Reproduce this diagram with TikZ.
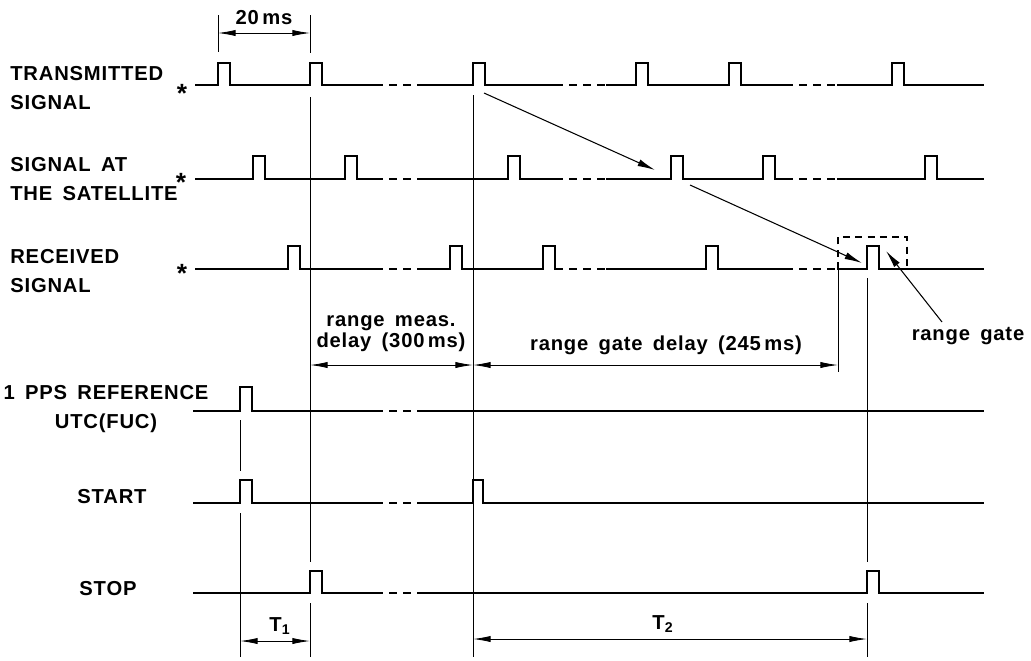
\documentclass[tikz,border=0pt]{standalone}
\usepackage{fontspec}
\setmainfont{Liberation Sans}[LetterSpace=4,WordSpace=1.6]
\usetikzlibrary{arrows.meta}

\begin{document}
\begin{tikzpicture}[
    x=0.2mm, y=-0.2mm,
    font=\fontsize{11.5}{14}\selectfont\bfseries,
    sig/.style={line width=1.1pt},
    brk/.style={line width=1.1pt, dash pattern=on 4.5pt off 3.5pt, dash phase=4.5pt},
    refline/.style={line width=0.5pt},
    gatebox/.style={line width=0.7pt, dash pattern=on 4pt off 3pt},
    dim/.style={{Latex[length=10pt,width=3.5pt]}-{Latex[length=10pt,width=3.5pt]}, line width=0.5pt},
    ray/.style={-{Latex[length=10pt,width=4pt]}, line width=0.6pt},
    lbl/.style={anchor=west, align=left, inner sep=0pt},
    star/.style={inner sep=0pt, font=\fontsize{15}{15}\selectfont\bfseries}
]
\useasboundingbox (0,0) rectangle (1031,660);

% Signal names
\node[lbl] (txlbl) at (10,88) {TRANSMITTED\\[3pt]SIGNAL};
\node[lbl] (satlbl) at (10,179) {SIGNAL AT\\[3pt]THE SATELLITE};
\node[lbl] (rxlbl) at (10,271) {RECEIVED\\[3pt]SIGNAL};
\node[align=center, inner sep=0pt] (ppslbl) at (106,409) {1 PPS REFERENCE\\[3pt]UTC(FUC)};
\node (startlbl) at (112,497) {START};
\node (stoplbl) at (108,589) {STOP};
\node[star] (txstar) at (182,93) {*};
\node[star] (satstar) at (181,182) {*};
\node[star] (rxstar) at (182,273) {*};

% Transmitted signal
\draw[sig] (195,85) \foreach \p in {218,310} {-- (\p,85) -- ++(0,-22) -- ++(12,0) -- ++(0,22)} -- (383,85);
\draw[sig] (420,85) -- (473,85) -- ++(0,-22) -- ++(12,0) -- ++(0,22) -- (563,85);
\draw[sig] (606,85) \foreach \p in {636,729} {-- (\p,85) -- ++(0,-22) -- ++(12,0) -- ++(0,22)} -- (793,85);
\draw[sig] (837,85) -- (892,85) -- ++(0,-22) -- ++(12,0) -- ++(0,22) -- (984,85);

% Signal at the satellite
\draw[sig] (195,179) \foreach \p in {253,345} {-- (\p,179) -- ++(0,-23) -- ++(12,0) -- ++(0,23)} -- (383,179);
\draw[sig] (420,179) -- (508,179) -- ++(0,-23) -- ++(12,0) -- ++(0,23) -- (563,179);
\draw[sig] (606,179) \foreach \p in {671,763} {-- (\p,179) -- ++(0,-23) -- ++(12,0) -- ++(0,23)} -- (793,179);
\draw[sig] (837,179) -- (925,179) -- ++(0,-23) -- ++(12,0) -- ++(0,23) -- (984,179);

% Received signal
\draw[sig] (195,269) -- (288,269) -- ++(0,-23) -- ++(12,0) -- ++(0,23) -- (383,269);
\draw[sig] (420,269) \foreach \p in {450,543} {-- (\p,269) -- ++(0,-23) -- ++(12,0) -- ++(0,23)} -- (563,269);
\draw[sig] (606,269) -- (706,269) -- ++(0,-23) -- ++(12,0) -- ++(0,23) -- (793,269);
\draw[sig] (837,269) -- (867,269) -- ++(0,-23) -- ++(12,0) -- ++(0,23) -- (984,269);

% 1 PPS, START and STOP
\draw[sig] (193,411) -- (240,411) -- ++(0,-24) -- ++(12,0) -- ++(0,24) -- (383,411);
\draw[sig] (420,411) -- (984,411);
\draw[sig] (193,503) -- (240,503) -- ++(0,-23) -- ++(12,0) -- ++(0,23) -- (383,503);
\draw[sig] (420,503) -- (473,503) -- ++(0,-23) -- ++(10,0) -- ++(0,23) -- (984,503);
\draw[sig] (193,593) -- (310,593) -- ++(0,-22) -- ++(12,0) -- ++(0,22) -- (383,593);
\draw[sig] (420,593) -- (867,593) -- ++(0,-22) -- ++(12,0) -- ++(0,22) -- (984,593);

% time breaks
\foreach \y in {85,179,269} {
  \draw[brk] (383,\y) -- (420,\y);
  \draw[brk] (563,\y) -- (606,\y);
  \draw[brk] (793,\y) -- (837,\y);
}
\foreach \y in {411,503,593}
  \draw[brk] (383,\y) -- (420,\y);

% reference lines
\draw[refline] (218,15) -- (218,52);
\draw[refline] (310,15) -- (310,53);
\draw[refline] (310,97) -- (310,562);
\draw[refline] (310,603) -- (310,657);
\draw[refline] (473,95) -- (473,657);
\draw[refline] (240,420) -- (240,471);
\draw[refline] (240,513) -- (240,657);
\draw[refline] (867,278) -- (867,562);
\draw[refline] (867,603) -- (867,657);

% range gate window
\draw[gatebox] (838,269) |- (907,237) -- (907,269);
\draw[refline] (838,269) -- (838,372);

% signal paths
\coordinate (txout) at (484,93);
\coordinate (satin) at (655,170);
\coordinate (satout) at (690,185);
\coordinate (rxin) at (862,263);
\draw[ray] (txout) -- (satin);
\draw[ray] (satout) -- (rxin);

\node (gatelbl) at (968,336) {range gate};
\coordinate (gatetail) at (942,322);
\coordinate (gatetip) at (886,251);
\draw[ray] (gatetail) -- (gatetip);

% dimensions
\coordinate (p20a) at (218,33);
\coordinate (p20b) at (310,33);
\draw[dim] (p20a) -- (p20b);
\node (p20lbl) at (264,18) {20\,ms};

\coordinate (rma) at (310,365);
\coordinate (rmb) at (473,365);
\coordinate (rgb) at (838,365);
\draw[dim] (rma) -- (rmb);
\draw[dim] (rmb) -- (rgb);
\node[align=center] (rmlbl) at (391,334) {range meas.\\[-2pt]delay (300\,ms)};
\node (rglbl) at (666,345) {range gate delay (245\,ms)};

\coordinate (t1a) at (240,641);
\coordinate (t1b) at (310,641);
\coordinate (t2a) at (473,639);
\coordinate (t2b) at (867,639);
\draw[dim] (t1a) -- (t1b);
\draw[dim] (t2a) -- (t2b);
\node (t1lbl) at (280,626) {T\textsubscript{1}};
\node (t2lbl) at (663,624) {T\textsubscript{2}};

\end{tikzpicture}
\end{document}
